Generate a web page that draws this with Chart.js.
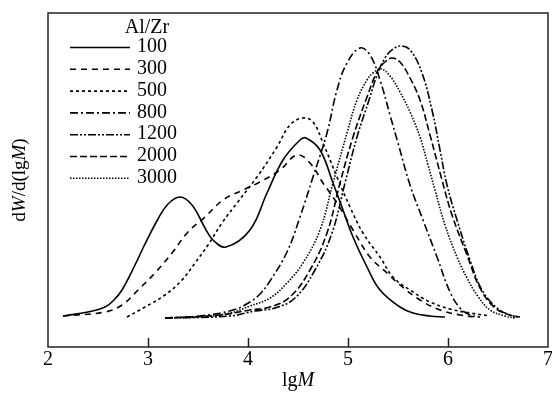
<!DOCTYPE html>
<html>
<head>
<meta charset="UTF-8">
<title>GPC curves</title>
<script src="https://cdn.jsdelivr.net/npm/chart.js"></script>
<style>
    html, body { margin: 0; padding: 0; background: #fff; }
    #wrap { width: 552px; height: 401px; }
</style>
</head>
<body>
<div id="wrap"><canvas id="gpcChart" width="552" height="401"></canvas></div>
<script>
    // Al/Zr ratios (legend)
    const ratios = ['100', '300', '500', '800', '1200', '2000', '3000'];

    // lgM / dW/d(lgM), one pair per curve
    const lgM100 = [2.15, 2.40, 2.57, 2.66, 2.74, 2.87, 2.97, 3.10, 3.20, 3.32, 3.44, 3.57, 3.65, 3.78, 4.02, 4.19, 4.35, 4.52, 4.58, 4.72, 4.85, 4.95, 5.05, 5.19, 5.32, 5.52, 5.65, 5.82, 5.97];
    const w100   = [0.31, 0.35, 0.40, 0.47, 0.57, 0.82, 1.03, 1.28, 1.43, 1.50, 1.42, 1.19, 1.07, 1.00, 1.17, 1.54, 1.87, 2.07, 2.09, 1.97, 1.64, 1.37, 1.10, 0.80, 0.57, 0.40, 0.34, 0.31, 0.30];

    const lgM300 = [2.15, 2.57, 2.74, 2.90, 3.07, 3.24, 3.40, 3.57, 3.75, 3.95, 4.12, 4.32, 4.49, 4.62, 4.75, 4.89, 5.05, 5.22, 5.39, 5.52, 5.72, 5.92, 6.12, 6.27];
    const w300   = [0.31, 0.35, 0.42, 0.57, 0.74, 0.94, 1.15, 1.30, 1.47, 1.57, 1.65, 1.77, 1.92, 1.84, 1.64, 1.44, 1.17, 0.90, 0.74, 0.62, 0.47, 0.37, 0.32, 0.30];

    const lgM500 = [2.79, 2.97, 3.17, 3.34, 3.47, 3.60, 3.74, 3.89, 4.09, 4.29, 4.42, 4.55, 4.65, 4.75, 4.89, 5.02, 5.15, 5.32, 5.45, 5.62, 5.82, 6.02, 6.22, 6.42];
    const w500   = [0.30, 0.40, 0.52, 0.67, 0.84, 1.02, 1.24, 1.44, 1.70, 2.00, 2.22, 2.29, 2.25, 2.04, 1.70, 1.40, 1.14, 0.90, 0.70, 0.57, 0.45, 0.38, 0.34, 0.31];

    const lgM800 = [3.17, 3.52, 3.85, 4.02, 4.12, 4.22, 4.39, 4.52, 4.65, 4.79, 4.89, 4.99, 5.12, 5.22, 5.32, 5.42, 5.50, 5.62, 5.75, 5.89, 6.02, 6.12, 6.22, 6.32];
    const w800   = [0.29, 0.31, 0.37, 0.45, 0.53, 0.66, 0.95, 1.30, 1.70, 2.14, 2.57, 2.84, 2.99, 2.92, 2.67, 2.32, 2.04, 1.62, 1.27, 0.90, 0.55, 0.39, 0.32, 0.30];

    const lgM1200 = [3.17, 3.82, 4.07, 4.27, 4.47, 4.67, 4.84, 4.97, 5.09, 5.22, 5.29, 5.37, 5.45, 5.54, 5.63, 5.74, 5.84, 5.92, 5.99, 6.09, 6.22, 6.34, 6.49, 6.62, 6.72];
    const w1200   = [0.29, 0.31, 0.36, 0.39, 0.49, 0.77, 1.14, 1.64, 2.10, 2.50, 2.72, 2.89, 2.98, 3.01, 2.96, 2.74, 2.37, 1.97, 1.62, 1.27, 0.87, 0.57, 0.39, 0.32, 0.30];

    const lgM2000 = [3.17, 3.72, 4.02, 4.22, 4.42, 4.62, 4.79, 4.92, 5.05, 5.19, 5.29, 5.37, 5.44, 5.52, 5.62, 5.72, 5.82, 5.94, 6.04, 6.19, 6.32, 6.47, 6.62, 6.70];
    const w2000   = [0.29, 0.32, 0.37, 0.40, 0.50, 0.77, 1.14, 1.64, 2.10, 2.50, 2.75, 2.85, 2.89, 2.85, 2.69, 2.47, 2.12, 1.67, 1.32, 0.92, 0.59, 0.39, 0.32, 0.30];

    const lgM3000 = [3.17, 3.52, 3.82, 4.02, 4.22, 4.39, 4.55, 4.72, 4.85, 4.99, 5.09, 5.19, 5.25, 5.33, 5.42, 5.52, 5.62, 5.72, 5.80, 5.87, 5.97, 6.09, 6.19, 6.29, 6.42, 6.57, 6.67];
    const w3000   = [0.29, 0.30, 0.34, 0.41, 0.49, 0.64, 0.84, 1.17, 1.64, 2.14, 2.47, 2.67, 2.74, 2.78, 2.71, 2.55, 2.35, 2.10, 1.82, 1.57, 1.22, 0.90, 0.69, 0.52, 0.37, 0.31, 0.29];

    const xTicks = [2, 3, 4, 5, 6, 7];

    const lgMs = [lgM100, lgM300, lgM500, lgM800, lgM1200, lgM2000, lgM3000];
    const ws = [w100, w300, w500, w800, w1200, w2000, w3000];
    const dashes = [[], [6, 5], [3, 3], [8, 3, 2, 3], [8, 2, 2, 2, 2, 2], [7, 3], [1.5, 1.5]];

    const serif = '"Liberation Serif", "DejaVu Serif", serif';

    // draw a string made of plain / italic parts
    function mixedText(ctx, parts, x, y, size) {
        let total = 0;
        parts.forEach(p => {
            ctx.font = (p[1] ? 'italic ' : '') + size + 'px ' + serif;
            total += ctx.measureText(p[0]).width;
        });
        let cx = x - total / 2;
        parts.forEach(p => {
            ctx.font = (p[1] ? 'italic ' : '') + size + 'px ' + serif;
            ctx.fillText(p[0], cx, y);
            cx += ctx.measureText(p[0]).width;
        });
    }

    const framePlugin = {
        id: 'frame',
        afterDraw(chart) {
            const ctx = chart.ctx;
            const a = chart.chartArea;
            const xs = chart.scales.x;
            ctx.save();
            ctx.strokeStyle = '#222';
            ctx.lineWidth = 1.5;
            ctx.setLineDash([]);
            ctx.strokeRect(a.left, a.top, a.right - a.left, a.bottom - a.top);
            // inner ticks on the bottom axis
            ctx.beginPath();
            xTicks.slice(1, -1).forEach(v => {
                const px = Math.round(xs.getPixelForValue(v)) + 0.5;
                ctx.moveTo(px, a.bottom);
                ctx.lineTo(px, a.bottom - 9);
            });
            ctx.stroke();

            // axis titles
            ctx.fillStyle = '#000';
            ctx.textBaseline = 'middle';
            mixedText(ctx, [['lg', false], ['M', true]], (a.left + a.right) / 2, 381, 20);
            ctx.save();
            ctx.translate(20, (a.top + a.bottom) / 2);
            ctx.rotate(-Math.PI / 2);
            mixedText(ctx, [['d', false], ['W', true], ['/d(lg', false], ['M', true], [')', false]], 0, 0, 19);
            ctx.restore();

            // legend
            ctx.font = '20px ' + serif;
            ctx.textAlign = 'center';
            ctx.fillText('Al/Zr', 147, 28);
            ctx.textAlign = 'left';
            chart.data.datasets.forEach((ds, i) => {
                const y = 47 + i * 21.8;
                ctx.strokeStyle = ds.borderColor;
                ctx.lineWidth = ds.borderWidth;
                ctx.setLineDash(ds.borderDash);
                ctx.beginPath();
                ctx.moveTo(70, y + 0.5);
                ctx.lineTo(130, y + 0.5);
                ctx.stroke();
                ctx.fillText(ds.label, 137, y);
            });
            ctx.restore();
        }
    };

    new Chart(document.getElementById('gpcChart'), {
        type: 'line',
        data: {
            datasets: ratios.map((r, i) => ({
                label: r,
                data: lgMs[i].map((x, j) => ({ x: x, y: ws[i][j] })),
                borderColor: '#000',
                borderWidth: 1.6,
                borderDash: dashes[i],
                pointRadius: 0,
                fill: false,
                tension: 0.4
            }))
        },
        options: {
            responsive: false,
            animation: false,
            devicePixelRatio: 1,
            layout: { autoPadding: false, padding: { left: 48, right: 4, top: 13, bottom: 0 } },
            plugins: { legend: { display: false }, tooltip: { enabled: false } },
            scales: {
                x: {
                    type: 'linear',
                    min: 2,
                    max: 7,
                    afterBuildTicks: s => { s.ticks = xTicks.map(v => ({ value: v })); },
                    afterFit: s => { s.height = 54; },
                    grid: { display: false },
                    border: { display: false },
                    ticks: { color: '#000', padding: -7, font: { family: serif, size: 20 } }
                },
                y: { display: false, min: 0, max: 3.34 }
            }
        },
        plugins: [framePlugin]
    });
</script>
</body>
</html>
